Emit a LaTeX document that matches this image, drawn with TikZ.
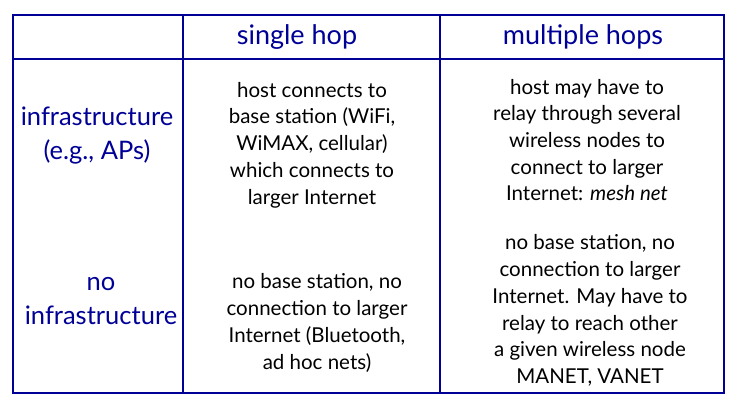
\documentclass[tikz,border=0pt]{standalone}
\usepackage{fontspec}
\setmainfont{Lato}
\definecolor{tblue}{RGB}{0,0,150}
\begin{document}
\begin{tikzpicture}[x=1pt,y=-1pt,
 grid/.style={draw=tblue, line width=2pt},
 head/.style={text=tblue, font=\fontsize{27}{30}\selectfont, inner sep=0pt},
 rowlab/.style={text=tblue, font=\fontsize{25.5}{34}\selectfont, align=center, inner sep=0pt},
 body/.style={text=black, font=\fontsize{20.5}{26.7}\selectfont, align=center, inner sep=0pt}]
\useasboundingbox (0,0) rectangle (743,403);
\draw[grid] (13,15) rectangle (724,393);
\draw[grid] (13,59) -- (724,59);
\draw[grid] (183,15) -- (183,393);
\draw[grid] (440,15) -- (440,393);
\node[head, anchor=base] (h1) at (297,45) {single hop};
\node[head, anchor=base] (h2) at (583,45) {multiple hops};
\node[rowlab] (r1) at (97,136) {infrastructure\\(e.g., APs)};
\node[rowlab] (r2) at (101,301) {no\\infrastructure};
\node[body] (c11) at (312,145) {host connects to\\base station (WiFi,\\WiMAX, cellular)\\which connects to\\larger Internet};
\node[body] (c12) at (587,140) {host may have to\\relay through several\\wireless nodes to\\connect to larger\\Internet: \textit{mesh net}};
\node[body] (c21) at (317,323) {no base station, no\\connection to larger\\Internet (Bluetooth,\\ad hoc nets)};
\node[body] (c22) at (590,310.5) {no base station, no\\connection to larger\\Internet. May have to\\relay to reach other\\a given wireless node\\MANET, VANET};
\end{tikzpicture}
\end{document}
